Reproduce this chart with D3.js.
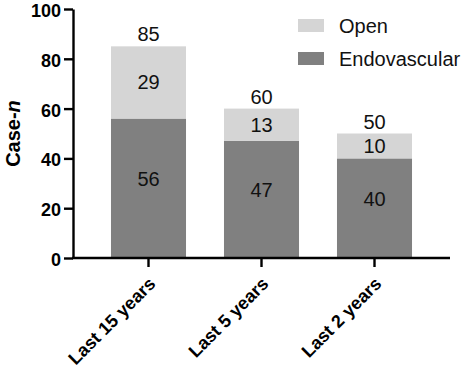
<!DOCTYPE html>
<html>
<head>
<meta charset="utf-8">
<script src="https://cdn.jsdelivr.net/npm/d3@7"></script>
<style>
  body { margin: 0; background: #fff; }
  text { font-family: "Liberation Sans", Arial, sans-serif; }
</style>
</head>
<body>
<svg id="chart" width="464" height="370"></svg>
<script>
const periods = ["Last 15 years", "Last 5 years", "Last 2 years"];
const endovascular = [56, 47, 40];
const open = [29, 13, 10];
const totals = [85, 60, 50];
const yTicks = [0, 20, 40, 60, 80, 100];

const svg = d3.select("#chart");
const colors = {open: "#d5d5d5", endo: "#808080"};

let x = d3.scaleBand()
    .domain(periods)
    .range([92, 431])
    .paddingInner(0.336)
    .paddingOuter(0.168);
let y = d3.scaleLinear()
    .domain([0, 100])
    .range([258, 9]);

const rows = periods.map((p, i) => ({p, endo: endovascular[i], open: open[i], total: totals[i]}));

// bars
svg.append("g").selectAll("rect.endo")
    .data(rows).enter().append("rect")
    .attr("x", d => x(d.p))
    .attr("width", x.bandwidth())
    .attr("y", d => y(d.endo))
    .attr("height", d => y(0) - y(d.endo))
    .attr("fill", colors.endo);
svg.append("g").selectAll("rect.open")
    .data(rows).enter().append("rect")
    .attr("x", d => x(d.p))
    .attr("width", x.bandwidth())
    .attr("y", d => y(d.endo + d.open))
    .attr("height", d => y(d.endo) - y(d.endo + d.open))
    .attr("fill", colors.open);

// value labels
const lab = svg.append("g")
    .attr("font-size", 20)
    .attr("text-anchor", "middle")
    .attr("fill", "#111");
lab.selectAll("text.e").data(rows).enter().append("text")
    .attr("x", d => x(d.p) + x.bandwidth() / 2)
    .attr("y", d => y(d.endo / 2) - 2)
    .text(d => d.endo);
lab.selectAll("text.o").data(rows).enter().append("text")
    .attr("x", d => x(d.p) + x.bandwidth() / 2)
    .attr("y", d => y(d.endo + d.open / 2) + 7)
    .text(d => d.open);
lab.selectAll("text.t").data(rows).enter().append("text")
    .attr("x", d => x(d.p) + x.bandwidth() / 2)
    .attr("y", d => y(d.total) - 5)
    .text(d => d.total);

// y axis
const yAxis = svg.append("g")
    .attr("transform", "translate(73,0)")
    .call(d3.axisLeft(y).tickValues(yTicks).tickSize(9).tickSizeOuter(0));
yAxis.select(".domain").attr("stroke-width", 2.4).attr("stroke", "#000");
yAxis.selectAll(".tick line").attr("stroke-width", 2.4);
yAxis.selectAll(".tick text")
    .attr("font-size", 18).attr("font-weight", "bold")
    .attr("font-family", "Liberation Sans, Arial, sans-serif")
    .attr("fill", "#000").attr("x", -12).attr("dy", "0.42em");

// x axis
const xAxis = svg.append("g")
    .attr("transform", `translate(0,${y(0)})`)
    .call(d3.axisBottom(x).tickSize(9).tickSizeOuter(0));
xAxis.select(".domain").attr("d", "M72,0H450").attr("stroke-width", 2.4).attr("stroke", "#000");
xAxis.selectAll(".tick line").attr("stroke-width", 2.4);
xAxis.selectAll(".tick text")
    .attr("font-size", 18).attr("font-weight", "bold")
    .attr("font-family", "Liberation Sans, Arial, sans-serif")
    .attr("fill", "#000")
    .attr("text-anchor", "end")
    .attr("dy", null)
    .attr("transform", "translate(8,27) rotate(-45)")
    .attr("y", 0).attr("x", 0);

// y title
const yt = svg.append("text")
    .attr("transform", `translate(20,${y(50)}) rotate(-90)`)
    .attr("text-anchor", "middle")
    .attr("font-size", 20)
    .attr("font-weight", "bold");
yt.append("tspan").text("Case-");
yt.append("tspan").attr("font-style", "italic").text("n");

// legend
const legendItems = [{k: "Open", c: colors.open}, {k: "Endovascular", c: colors.endo}];
const lg = svg.append("g").attr("transform", "translate(298,19)");
lg.selectAll("rect").data(legendItems).enter().append("rect")
    .attr("x", 0).attr("y", (d, i) => i * 33)
    .attr("width", 26).attr("height", 13)
    .attr("fill", d => d.c);
lg.selectAll("text").data(legendItems).enter().append("text")
    .attr("x", 41).attr("y", (d, i) => i * 33 + 14)
    .attr("font-size", 20)
    .attr("fill", "#111")
    .text(d => d.k);
</script>
</body>
</html>
